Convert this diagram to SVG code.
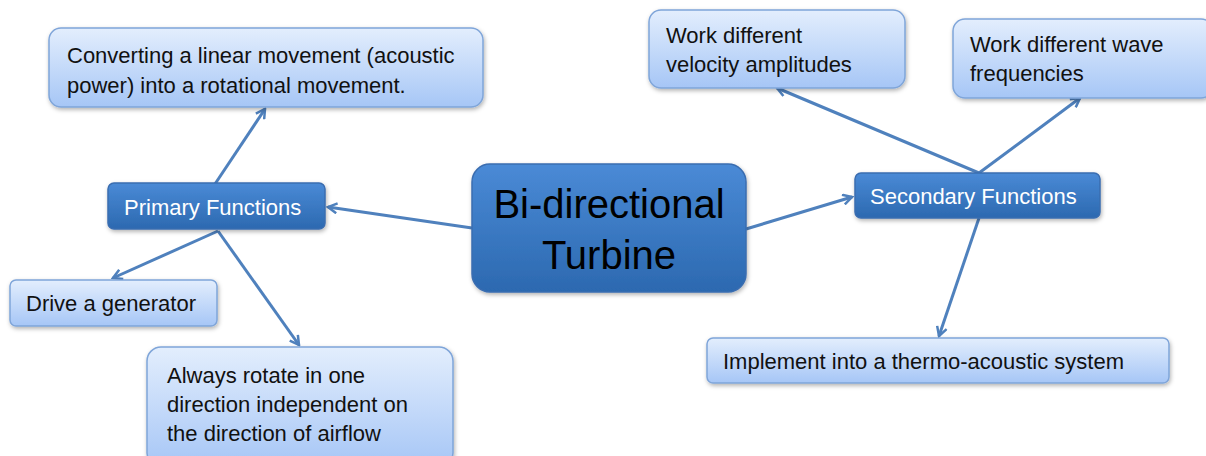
<svg xmlns="http://www.w3.org/2000/svg" width="1206" height="456" viewBox="0 0 1206 456">
<defs>
<linearGradient id="gDark" x1="0" y1="0" x2="0" y2="1">
<stop offset="0" stop-color="#4a8ad6"/>
<stop offset="1" stop-color="#2c69b0"/>
</linearGradient>
<linearGradient id="gLight" x1="0" y1="0" x2="0" y2="1">
<stop offset="0" stop-color="#e3eefd"/>
<stop offset="1" stop-color="#a6c6f6"/>
</linearGradient>
<filter id="sh" x="-10%" y="-10%" width="120%" height="130%">
<feDropShadow dx="1" dy="2" stdDeviation="2" flood-color="#000" flood-opacity="0.3"/>
</filter>
<marker id="arr" viewBox="0 0 12 12" refX="10" refY="6" markerWidth="12" markerHeight="12" markerUnits="userSpaceOnUse" orient="auto">
<path d="M1,1 L10,6 L1,11" fill="none" stroke="#4f81bd" stroke-width="2.5"/>
</marker>
</defs>
<style>
.dark{fill:url(#gDark);stroke:#3a6db0;stroke-width:1.5;filter:url(#sh)}
.light{fill:url(#gLight);stroke:#7fa5d9;stroke-width:1.5;filter:url(#sh)}
.t{font-family:"Liberation Sans",Arial,sans-serif;font-size:22px;fill:#111}
.tw{font-family:"Liberation Sans",Arial,sans-serif;font-size:22px;fill:#fff}
.big{font-family:"Liberation Sans",Arial,sans-serif;font-size:40px;fill:#000;text-anchor:middle}
.c{stroke:#4f81bd;stroke-width:3;fill:none;marker-end:url(#arr)}
</style>
<g id="connectors">
<line class="c" x1="472" y1="228" x2="328" y2="207"/>
<line class="c" x1="215" y1="184" x2="265" y2="109"/>
<line class="c" x1="218" y1="231" x2="113" y2="278"/>
<line class="c" x1="218" y1="231" x2="299" y2="345"/>
<line class="c" x1="746" y1="229" x2="852" y2="197"/>
<line class="c" x1="979" y1="173" x2="777" y2="88"/>
<line class="c" x1="979" y1="173" x2="1080" y2="98"/>
<line class="c" x1="979" y1="218" x2="939" y2="336"/>
</g>
<g id="central">
<rect class="dark" x="472" y="164" width="274" height="128" rx="18"/>
<text class="big" x="609" y="218">Bi-directional</text>
<text class="big" x="609" y="269">Turbine</text>
</g>
<g id="primary">
<rect class="dark" x="108" y="183" width="217" height="46" rx="6"/>
<text class="tw" x="124" y="215">Primary Functions</text>
</g>
<g id="converting">
<rect class="light" x="49" y="28" width="434" height="79" rx="12"/>
<text class="t" x="67" y="63">Converting a linear movement (acoustic</text>
<text class="t" x="67" y="93">power) into a rotational movement.</text>
</g>
<g id="drive">
<rect class="light" x="10" y="280" width="207" height="46" rx="6"/>
<text class="t" x="26" y="311">Drive a generator</text>
</g>
<g id="always">
<rect class="light" x="147" y="347" width="306" height="120" rx="14"/>
<text class="t" x="167" y="383">Always rotate in one</text>
<text class="t" x="167" y="412">direction independent on</text>
<text class="t" x="167" y="441">the direction of airflow</text>
</g>
<g id="secondary">
<rect class="dark" x="855" y="173" width="245" height="45" rx="6"/>
<text class="tw" x="870" y="204">Secondary Functions</text>
</g>
<g id="velocity">
<rect class="light" x="649" y="10" width="256" height="78" rx="12"/>
<text class="t" x="666" y="43">Work different</text>
<text class="t" x="666" y="72">velocity amplitudes</text>
</g>
<g id="wave">
<rect class="light" x="953" y="19" width="260" height="79" rx="12"/>
<text class="t" x="970" y="52">Work different wave</text>
<text class="t" x="970" y="81">frequencies</text>
</g>
<g id="thermo">
<rect class="light" x="707" y="338" width="462" height="45" rx="6"/>
<text class="t" x="723" y="369">Implement into a thermo-acoustic system</text>
</g>
</svg>
